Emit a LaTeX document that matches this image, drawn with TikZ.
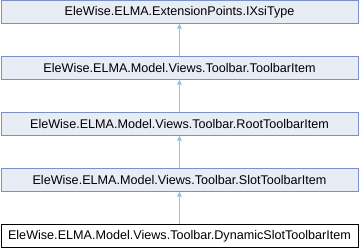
\documentclass[tikz,border=0pt]{standalone}
\usepackage{fontspec}
\setmainfont{Liberation Sans}
\usepackage{tikz}
\usetikzlibrary{arrows.meta}
\definecolor{boxfill}{RGB}{232,236,245}
\definecolor{boxline}{RGB}{122,146,199}
\definecolor{inherit}{RGB}{140,200,235}

\begin{document}
\begin{tikzpicture}[x=1pt,y=-1pt,
		cls/.style={draw=boxline, fill=boxfill, line width=1pt, minimum width=357pt, minimum height=22.5pt, inner sep=0pt, font=\fontsize{12.6}{14}\selectfont},
		leaf/.style={cls, draw=black, fill=white},
		base/.style={draw=inherit, line width=1pt, -{Triangle[width=5pt,length=5pt]}}]
		\useasboundingbox (0,0) rectangle (359,248);
		\node[cls] (xsitype) at (179.5,12) {EleWise.ELMA.ExtensionPoints.IXsiType};
		\node[cls] (toolbaritem) at (179.5,68) {EleWise.ELMA.Model.Views.Toolbar.ToolbarItem};
		\node[cls] (rootitem) at (179.5,124) {EleWise.ELMA.Model.Views.Toolbar.RootToolbarItem};
		\node[cls] (slotitem) at (179.5,180) {EleWise.ELMA.Model.Views.Toolbar.SlotToolbarItem};
		\node[leaf] (dynslotitem) at (179.5,236) {EleWise.ELMA.Model.Views.Toolbar.DynamicSlotToolbarItem};
		\draw[base] (toolbaritem) -- (xsitype);
		\draw[base] (rootitem) -- (toolbaritem);
		\draw[base] (slotitem) -- (rootitem);
		\draw[base] (dynslotitem) -- (slotitem);
	\end{tikzpicture}
\end{document}
